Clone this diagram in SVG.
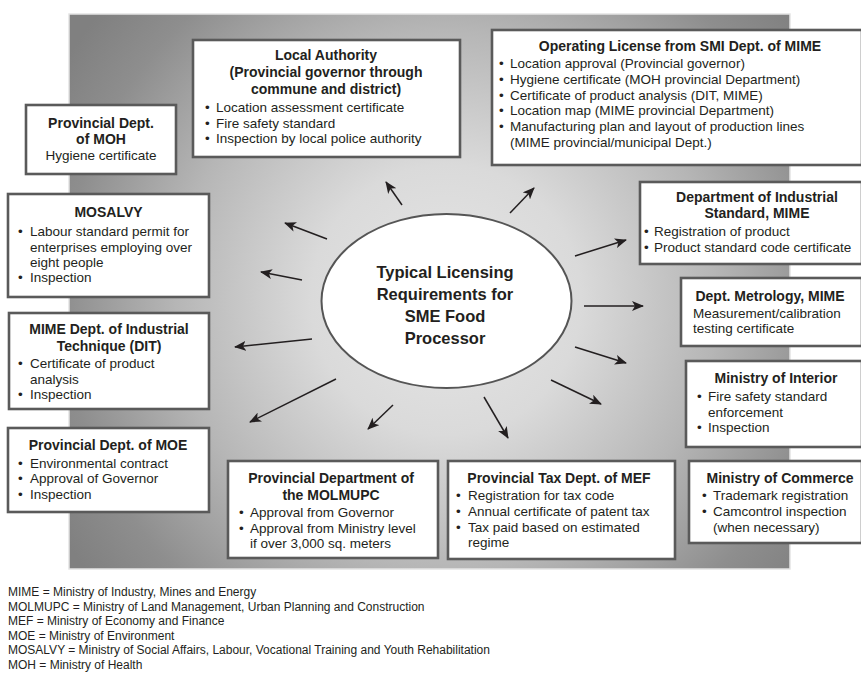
<svg xmlns="http://www.w3.org/2000/svg" width="861" height="674" viewBox="0 0 861 674">
<style>
.box{fill:#ffffff;stroke:#5a5a5a;stroke-width:2.6}
.h{font-family:"Liberation Sans",Arial,sans-serif;font-weight:bold;font-size:14px;fill:#231f20;text-anchor:middle}
.b{font-family:"Liberation Sans",Arial,sans-serif;font-size:13.5px;fill:#231f20}
.c{text-anchor:middle}
.t{font-family:"Liberation Sans",Arial,sans-serif;font-weight:bold;font-size:16.5px;fill:#231f20;text-anchor:middle}
.lg{font-family:"Liberation Sans",Arial,sans-serif;font-size:12px;fill:#231f20}
.ar{stroke:#231f20;stroke-width:1.5;fill:none;marker-end:url(#ah)}
</style>
<defs>
<radialGradient id="bg" gradientUnits="userSpaceOnUse" cx="446" cy="300" r="450">
<stop offset="0" stop-color="#e6e6e6"/>
<stop offset="0.3" stop-color="#dadada"/>
<stop offset="0.6" stop-color="#b6b6b6"/>
<stop offset="0.85" stop-color="#8e8e8e"/>
<stop offset="1" stop-color="#808080"/>
</radialGradient>
<marker id="ah" viewBox="0 0 12 10" refX="11" refY="5" markerWidth="12" markerHeight="10" markerUnits="userSpaceOnUse" orient="auto">
<path d="M0,0 L12,5 L0,10 L3,5 Z" fill="#231f20"/>
</marker>
</defs>

<rect id="panel" x="69" y="14" width="721" height="555" fill="url(#bg)" stroke="#e4e4e4" stroke-width="1.5"/>

<g id="connectors">
<line class="ar" x1="402" y1="205" x2="386" y2="182"/>
<line class="ar" x1="510" y1="213" x2="534" y2="188"/>
<line class="ar" x1="327" y1="239" x2="285" y2="223"/>
<line class="ar" x1="302" y1="280" x2="261" y2="272"/>
<line class="ar" x1="312" y1="339" x2="235" y2="347"/>
<line class="ar" x1="336" y1="379" x2="250" y2="422"/>
<line class="ar" x1="393" y1="405" x2="368" y2="429"/>
<line class="ar" x1="484" y1="397" x2="508" y2="438"/>
<line class="ar" x1="551" y1="380" x2="601" y2="404"/>
<line class="ar" x1="575" y1="347" x2="626" y2="363"/>
<line class="ar" x1="584" y1="306" x2="643" y2="306"/>
<line class="ar" x1="575" y1="256" x2="626" y2="240"/>
</g>

<g id="center">
<ellipse cx="446.5" cy="301" rx="125" ry="87" fill="#ffffff" stroke="#555555" stroke-width="2"/>
<text class="t" x="445" y="278">Typical Licensing</text>
<text class="t" x="445" y="300">Requirements for</text>
<text class="t" x="445" y="322">SME Food</text>
<text class="t" x="445" y="344">Processor</text>
</g>

<g id="moh">
<rect class="box" x="26" y="105" width="150" height="69"/>
<text class="h" x="101" y="128">Provincial Dept.</text>
<text class="h" x="101" y="144">of MOH</text>
<text class="b c" x="101" y="160">Hygiene certificate</text>
</g>

<g id="local-authority">
<rect class="box" x="193" y="40" width="267" height="117"/>
<text class="h" x="326" y="60">Local Authority</text>
<text class="h" x="326" y="77">(Provincial governor through</text>
<text class="h" x="326" y="94">commune and district)</text>
<text class="b"><tspan x="205" y="112">•</tspan><tspan x="216">Location assessment certificate</tspan></text>
<text class="b"><tspan x="205" y="128">•</tspan><tspan x="216">Fire safety standard</tspan></text>
<text class="b"><tspan x="205" y="143">•</tspan><tspan x="216">Inspection by local police authority</tspan></text>
</g>

<g id="operating-license">
<rect class="box" x="492" y="30" width="370" height="135"/>
<text class="h" x="680" y="51">Operating License from SMI Dept. of MIME</text>
<text class="b"><tspan x="499" y="68">•</tspan><tspan x="510">Location approval (Provincial governor)</tspan></text>
<text class="b"><tspan x="499" y="84">•</tspan><tspan x="510">Hygiene certificate (MOH provincial Department)</tspan></text>
<text class="b"><tspan x="499" y="100">•</tspan><tspan x="510">Certificate of product analysis (DIT, MIME)</tspan></text>
<text class="b"><tspan x="499" y="115">•</tspan><tspan x="510">Location map (MIME provincial Department)</tspan></text>
<text class="b"><tspan x="499" y="131">•</tspan><tspan x="510">Manufacturing plan and layout of production lines</tspan></text>
<text class="b" x="510" y="147">(MIME provincial/municipal Dept.)</text>
</g>

<g id="mosalvy">
<rect class="box" x="8" y="194" width="201" height="103"/>
<text class="h" x="108.5" y="217">MOSALVY</text>
<text class="b"><tspan x="18" y="236">•</tspan><tspan x="30">Labour standard permit for</tspan></text>
<text class="b" x="30" y="252">enterprises employing over</text>
<text class="b" x="30" y="267">eight people</text>
<text class="b"><tspan x="18" y="282">•</tspan><tspan x="30">Inspection</tspan></text>
</g>

<g id="dit">
<rect class="box" x="9" y="313" width="200" height="96"/>
<text class="h" x="109" y="334">MIME Dept. of Industrial</text>
<text class="h" x="109" y="351">Technique (DIT)</text>
<text class="b"><tspan x="18" y="368">•</tspan><tspan x="30">Certificate of product</tspan></text>
<text class="b" x="30" y="384">analysis</text>
<text class="b"><tspan x="18" y="399">•</tspan><tspan x="30">Inspection</tspan></text>
</g>

<g id="industrial-standard">
<rect class="box" x="640" y="182" width="222" height="82"/>
<text class="h" x="757" y="202">Department of Industrial</text>
<text class="h" x="757" y="218">Standard, MIME</text>
<text class="b"><tspan x="644" y="236">•</tspan><tspan x="654">Registration of product</tspan></text>
<text class="b"><tspan x="644" y="252">•</tspan><tspan x="654">Product standard code certificate</tspan></text>
</g>

<g id="metrology">
<rect class="box" x="681" y="278" width="181" height="68"/>
<text class="h" x="770" y="301">Dept. Metrology, MIME</text>
<text class="b" x="693" y="318">Measurement/calibration</text>
<text class="b" x="693" y="333">testing certificate</text>
</g>

<g id="interior">
<rect class="box" x="686" y="361" width="176" height="86"/>
<text class="h" x="776" y="383">Ministry of Interior</text>
<text class="b"><tspan x="697" y="401">•</tspan><tspan x="708">Fire safety standard</tspan></text>
<text class="b" x="708" y="417">enforcement</text>
<text class="b"><tspan x="697" y="432">•</tspan><tspan x="708">Inspection</tspan></text>
</g>

<g id="moe">
<rect class="box" x="8" y="428" width="201" height="84"/>
<text class="h" x="108" y="450">Provincial Dept. of MOE</text>
<text class="b"><tspan x="18" y="468">•</tspan><tspan x="30">Environmental contract</tspan></text>
<text class="b"><tspan x="18" y="483">•</tspan><tspan x="30">Approval of Governor</tspan></text>
<text class="b"><tspan x="18" y="499">•</tspan><tspan x="30">Inspection</tspan></text>
</g>

<g id="molmupc">
<rect class="box" x="228" y="461" width="210" height="97"/>
<text class="h" x="331" y="483">Provincial Department of</text>
<text class="h" x="331" y="500">the MOLMUPC</text>
<text class="b"><tspan x="239" y="517">•</tspan><tspan x="250">Approval from Governor</tspan></text>
<text class="b"><tspan x="239" y="533">•</tspan><tspan x="250">Approval from Ministry level</tspan></text>
<text class="b" x="250" y="548">if over 3,000 sq. meters</text>
</g>

<g id="tax">
<rect class="box" x="448" y="461" width="227" height="98"/>
<text class="h" x="559" y="483">Provincial Tax Dept. of MEF</text>
<text class="b"><tspan x="456" y="500">•</tspan><tspan x="468">Registration for tax code</tspan></text>
<text class="b"><tspan x="456" y="516">•</tspan><tspan x="468">Annual certificate of patent tax</tspan></text>
<text class="b"><tspan x="456" y="532">•</tspan><tspan x="468">Tax paid based on estimated</tspan></text>
<text class="b" x="468" y="547">regime</text>
</g>

<g id="commerce">
<rect class="box" x="689" y="461" width="173" height="82"/>
<text class="h" x="780" y="483">Ministry of Commerce</text>
<text class="b"><tspan x="702" y="500">•</tspan><tspan x="713">Trademark registration</tspan></text>
<text class="b"><tspan x="702" y="516">•</tspan><tspan x="713">Camcontrol inspection</tspan></text>
<text class="b" x="713" y="532">(when necessary)</text>
</g>

<g id="legend">
<text class="lg" x="8" y="596">MIME = Ministry of Industry, Mines and Energy</text>
<text class="lg" x="8" y="610.6">MOLMUPC = Ministry of Land Management, Urban Planning and Construction</text>
<text class="lg" x="8" y="625.2">MEF = Ministry of Economy and Finance</text>
<text class="lg" x="8" y="639.8">MOE = Ministry of Environment</text>
<text class="lg" x="8" y="654.4">MOSALVY = Ministry of Social Affairs, Labour, Vocational Training and Youth Rehabilitation</text>
<text class="lg" x="8" y="669">MOH = Ministry of Health</text>
</g>
</svg>
